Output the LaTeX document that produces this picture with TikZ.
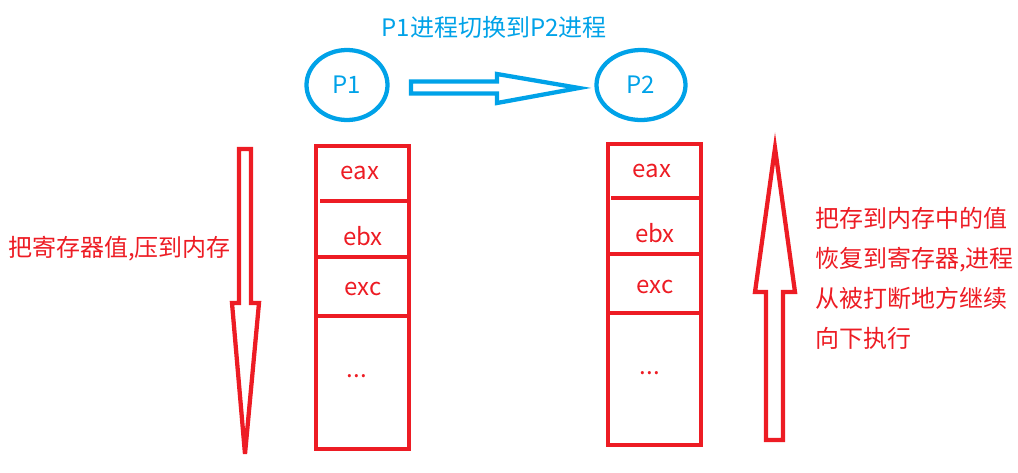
\documentclass[tikz,border=0pt]{standalone}
\usepackage{fontspec}
\setmainfont{Noto Sans CJK SC}
\definecolor{pred}{RGB}{237,28,36}
\definecolor{pblue}{RGB}{0,162,232}
\tikzset{
  txt/.style={font=\fontsize{18}{21}\selectfont, inner sep=0pt},
  redtxt/.style={txt, text=pred},
  bluetxt/.style={txt, text=pblue},
  proc/.style={ellipse, draw=pblue, line width=3.2pt, inner sep=0pt, bluetxt},
  regbox/.style={rectangle, draw=pred, line width=3.2pt, inner sep=0pt, minimum width=69.75pt},
  redline/.style={draw=pred, line width=3.2pt},
  bluearrow/.style={draw=pblue, line width=3.2pt, line join=miter},
  redarrow/.style={draw=pred, line width=3.2pt, line join=miter},
}
\usetikzlibrary{shapes.geometric}
\begin{document}
\begin{tikzpicture}[x=0.75pt,y=-0.75pt]
\useasboundingbox (0,0) rectangle (1018,472);
% title
\node[bluetxt] (title) at (494,27) {P1进程切换到P2进程};
% processes
\node[proc, minimum width=60.75pt, minimum height=52.5pt] (p1) at (347,85) {P1};
\node[proc, minimum width=66.75pt, minimum height=52.5pt] (p2) at (641,85) {P2};
% horizontal block arrow
\draw[bluearrow] (411,81.5) -- (497,81.5) -- (497,74) -- (579,88) -- (497,103) -- (497,93.5) -- (411,93.5) -- cycle;
% left box
\node[regbox, minimum height=227.25pt] (boxa) at (362.5,297.5) {};
\draw[redline] (320,201) -- (boxa.east |- 0,201);
\draw[redline] (318,257) -- (boxa.east |- 0,257);
\draw[redline] (318,316) -- (boxa.east |- 0,316);
\node[redtxt] (a1) at (360,173) {eax};
\node[redtxt] (a2) at (363,236) {ebx};
\node[redtxt] (a3) at (363,289) {exc};
\node[redtxt] (a4) at (357,376) {...};
% right box
\node[regbox, minimum height=225.75pt] (boxb) at (654.5,294.5) {};
\draw[redline] (611,198) -- (boxb.east |- 0,198);
\draw[redline] (610,254) -- (boxb.east |- 0,254);
\draw[redline] (610,313) -- (boxb.east |- 0,313);
\node[redtxt] (b1) at (652,171) {eax};
\node[redtxt] (b2) at (655,233) {ebx};
\node[redtxt] (b3) at (655,287) {exc};
\node[redtxt] (b4) at (650,373) {...};
% down arrow
\draw[redarrow] (239,149) -- (251,149) -- (251,303) -- (259,303) -- (245,454) -- (232,303) -- (239,303) -- cycle;
% up arrow
\draw[redarrow] (766,440) -- (783,440) -- (783,292) -- (795,292) -- (775,148) -- (755,292) -- (766,292) -- cycle;
% texts
\node[redtxt, anchor=west] (lt) at (8,249) {把寄存器值,压到内存};
\node[redtxt, anchor=west, align=left, font=\fontsize{18}{30}\selectfont] (rt) at (815,278) {把存到内存中的值\\恢复到寄存器,进程\\从被打断地方继续\\向下执行};
\end{tikzpicture}
\end{document}
